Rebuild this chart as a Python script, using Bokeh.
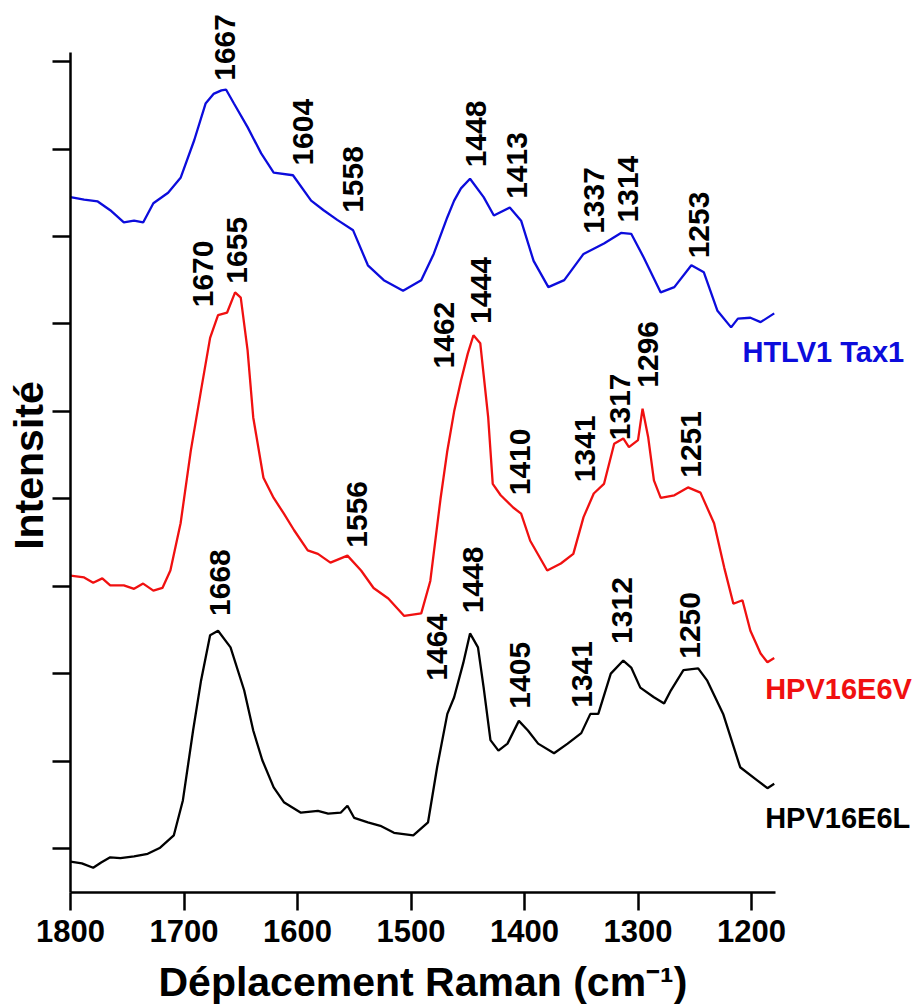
import math
from bokeh.plotting import figure
from bokeh.models import Range1d, FixedTicker, ColumnDataSource
from bokeh.core.properties import value
from bokeh.embed import file_html
from bokeh.resources import INLINE

# ---------------- data (Raman shift in cm-1, intensity in arbitrary stacked units) -------------
x_ticks = [1800, 1700, 1600, 1500, 1400, 1300, 1200]
y_ticks = [0, 1, 2, 3, 4, 5, 6, 7, 8, 9]

tax1_wn = [1800, 1788, 1776, 1765, 1753, 1744, 1736, 1727, 1714, 1703, 1691, 1681, 1674, 1667,
           1663, 1656, 1644, 1632, 1621, 1604, 1588, 1577, 1565, 1551, 1538, 1524, 1507, 1491,
           1480, 1468, 1462, 1456, 1448, 1436, 1427, 1413, 1403, 1392, 1379, 1365, 1348, 1330,
           1315, 1306, 1295, 1280, 1268, 1253, 1242, 1230, 1218, 1212, 1201, 1192, 1180]
tax1_int = [7.45, 7.42, 7.40, 7.30, 7.16, 7.18, 7.16, 7.38, 7.50, 7.67, 8.10, 8.52, 8.63, 8.67,
            8.68, 8.52, 8.25, 7.95, 7.73, 7.70, 7.41, 7.30, 7.19, 7.07, 6.67, 6.50, 6.38, 6.50,
            6.80, 7.22, 7.41, 7.55, 7.66, 7.45, 7.24, 7.33, 7.18, 6.72, 6.42, 6.50, 6.80, 6.92,
            7.04, 7.03, 6.76, 6.36, 6.42, 6.67, 6.59, 6.15, 5.96, 6.06, 6.07, 6.02, 6.12]

e6v_wn = [1800, 1788, 1780, 1772, 1765, 1753, 1744, 1736, 1727, 1719, 1712, 1703, 1694, 1685,
          1677, 1670, 1662, 1655, 1650, 1644, 1639, 1630, 1621, 1612, 1603, 1591, 1582, 1571,
          1556, 1544, 1533, 1520, 1506, 1491, 1483, 1474, 1468, 1462, 1456, 1450, 1445, 1439,
          1432, 1428, 1421, 1410, 1403, 1395, 1380, 1368, 1357, 1348, 1339, 1330, 1321, 1313,
          1308, 1300, 1296, 1291, 1286, 1280, 1268, 1256, 1245, 1233, 1224, 1216, 1208, 1201,
          1192, 1186, 1180]
e6v_int = [3.12, 3.10, 3.04, 3.09, 3.01, 3.01, 2.97, 3.03, 2.95, 2.98, 3.18, 3.72, 4.55, 5.24,
           5.84, 6.10, 6.13, 6.36, 6.30, 5.70, 4.93, 4.24, 4.01, 3.83, 3.64, 3.41, 3.37, 3.27,
           3.35, 3.18, 2.98, 2.86, 2.66, 2.69, 3.06, 4.00, 4.55, 5.00, 5.35, 5.66, 5.87, 5.78,
           4.93, 4.17, 4.04, 3.90, 3.83, 3.52, 3.18, 3.26, 3.37, 3.79, 4.06, 4.17, 4.63, 4.69,
           4.59, 4.67, 5.03, 4.70, 4.21, 4.01, 4.04, 4.13, 4.07, 3.72, 3.21, 2.80, 2.84, 2.49,
           2.23, 2.13, 2.18]

e6l_wn = [1800, 1790, 1780, 1773, 1765, 1756, 1744, 1732, 1721, 1709, 1701, 1692, 1685, 1677,
          1670, 1659, 1647, 1639, 1631, 1621, 1612, 1597, 1582, 1573, 1562, 1556, 1550, 1538,
          1527, 1515, 1498, 1485, 1477, 1468, 1462, 1454, 1448, 1441, 1436, 1430, 1423, 1415,
          1405, 1397, 1388, 1374, 1362, 1350, 1342, 1335, 1324, 1313, 1306, 1298, 1286, 1277,
          1271, 1260, 1247, 1239, 1225, 1210, 1195, 1186, 1180]
e6l_int = [-0.15, -0.17, -0.22, -0.16, -0.10, -0.11, -0.09, -0.06, 0.01, 0.15, 0.55, 1.35, 1.92, 2.44,
           2.49, 2.30, 1.81, 1.35, 1.01, 0.70, 0.53, 0.41, 0.43, 0.40, 0.41, 0.49, 0.35, 0.30,
           0.26, 0.18, 0.15, 0.30, 0.93, 1.54, 1.73, 2.12, 2.46, 2.30, 1.84, 1.24, 1.12, 1.20,
           1.46, 1.35, 1.20, 1.09, 1.20, 1.32, 1.54, 1.54, 2.00, 2.15, 2.07, 1.84, 1.73, 1.66,
           1.81, 2.04, 2.06, 1.92, 1.54, 0.93, 0.78, 0.69, 0.74]

# peak annotations: text, x position (cm-1), y position where the rotated label starts
tax1_peaks = ["1667", "1604", "1558", "1448", "1413", "1337", "1314", "1253"]
tax1_peak_x = [1663.5, 1595.6, 1550.7, 1443, 1407, 1339, 1309, 1246.7]
tax1_peak_y = [8.78, 7.81, 7.27, 7.79, 7.43, 7.03, 7.16, 6.75]

e6v_peaks = ["1670", "1655", "1556", "1462", "1444", "1410", "1341", "1317", "1296", "1251"]
e6v_peak_x = [1683, 1653, 1548, 1471, 1438, 1404, 1347, 1316, 1291.6, 1253]
e6v_peak_y = [6.19, 6.46, 3.44, 5.49, 6.00, 4.04, 4.19, 4.67, 5.27, 4.24]

e6l_peaks = ["1668", "1464", "1448", "1405", "1341", "1312", "1250"]
e6l_peak_x = [1668.7, 1476.7, 1445, 1404, 1349, 1314.5, 1254.6]
e6l_peak_y = [2.66, 1.92, 2.69, 1.60, 1.61, 2.34, 2.17]

series_names = ["HTLV1 Tax1", "HPV16E6V", "HPV16E6L"]
series_colors = ["#0c0cdc", "#f01010", "#000000"]
series_label_x = [1208, 1188, 1188]
series_label_y = [5.68, 1.83, 0.35]

x_title = "Déplacement Raman (cm⁻¹)"
y_title = "Intensité"

FONT = "Liberation Sans"
AXIS_X = 1800               # where the y axis is drawn
AXIS_Y = -0.503             # where the x axis is drawn
X_AXIS_END = 1179
X_START, X_END = 1861.67, 1057.3
Y_START, Y_END = -1.795, 9.584

# ---------------- figure ----------------
p = figure(width=913, height=1005, output_backend="svg", toolbar_location=None,
           x_range=Range1d(X_START, X_END), y_range=Range1d(Y_START, Y_END),
           min_border_left=0, min_border_right=0, min_border_top=10, min_border_bottom=0)
p.xgrid.visible = False
p.ygrid.visible = False
p.outline_line_color = None
p.background_fill_color = "white"

xa = p.xaxis[0]
xa.fixed_location = AXIS_Y
xa.ticker = FixedTicker(ticks=x_ticks)
xa.bounds = (X_AXIS_END, AXIS_X)
xa.axis_line_width = 2.5
xa.axis_line_color = "black"
xa.major_tick_line_width = 2.5
xa.major_tick_line_color = "black"
xa.major_tick_out = 18
xa.major_tick_in = 0
xa.minor_tick_out = 0
xa.minor_tick_in = 0
xa.major_label_text_font = FONT
xa.major_label_text_font_size = "31px"
xa.major_label_text_font_style = "bold"
xa.major_label_text_color = "black"
xa.major_label_standoff = 9

ya = p.yaxis[0]
ya.fixed_location = AXIS_X
ya.ticker = FixedTicker(ticks=[], minor_ticks=y_ticks)
ya.bounds = (AXIS_Y, 9.1)
ya.axis_line_width = 2.5
ya.axis_line_color = "black"
ya.minor_tick_line_width = 2.5
ya.minor_tick_line_color = "black"
ya.minor_tick_out = 18
ya.minor_tick_in = 0
ya.major_tick_out = 0
ya.major_tick_in = 0

# ---------------- axis titles ----------------
p.text(x=[(X_AXIS_END + AXIS_X) / 2], y=[-1.521], text=[x_title],
       text_align="center", text_baseline="alphabetic",
       text_font=value(FONT), text_font_size="41px", text_font_style="bold",
       text_color="black")
p.text(x=[1837], y=[4.38], text=[y_title], angle=math.pi / 2,
       text_align="center", text_baseline="alphabetic",
       text_font=value(FONT), text_font_size="41px", text_font_style="bold",
       text_color="black")

# ---------------- spectra ----------------
p.line(tax1_wn, tax1_int, line_color=series_colors[0], line_width=2.3)
p.line(e6v_wn, e6v_int, line_color=series_colors[1], line_width=2.3)
p.line(e6l_wn, e6l_int, line_color=series_colors[2], line_width=2.3)

# ---------------- peak labels ----------------
all_text = tax1_peaks + e6v_peaks + e6l_peaks
all_x = tax1_peak_x + e6v_peak_x + e6l_peak_x
all_y = tax1_peak_y + e6v_peak_y + e6l_peak_y
src = ColumnDataSource(dict(x=all_x, y=all_y, t=all_text))
p.text(x="x", y="y", text="t", source=src, angle=math.pi / 2,
       text_align="left", text_baseline="middle",
       text_font=value(FONT), text_font_size="30px", text_font_style="bold",
       text_color="black")

# ---------------- series names ----------------
src2 = ColumnDataSource(dict(x=series_label_x, y=series_label_y, t=series_names, c=series_colors))
p.text(x="x", y="y", text="t", source=src2, text_color="c",
       text_align="left", text_baseline="middle",
       text_font=value(FONT), text_font_size="29px", text_font_style="bold")

open("out.html", "w").write(file_html(p, INLINE))
